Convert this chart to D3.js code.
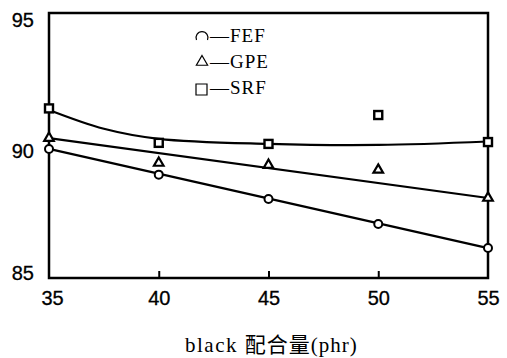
<!DOCTYPE html>
<meta charset="utf-8">
<title>black loading</title>
<style>
body {
  margin: 0px;
  background: #fff;
}
.tick text {
  font: 20px "Liberation Sans Narrow", "Liberation Sans", sans-serif;
  fill: #000;
  stroke: #000;
  stroke-width: 0.3px;
}
.legend text {
  font: 19px "Liberation Serif", serif;
}
</style>
<script src="https://d3js.org/d3.v7.min.js"></script>
<body>
<script>
var width = 507, height = 358;
var margin = {top: 13, right: 19, bottom: 80, left: 49};

// data
var loading = [35, 40, 45, 50, 55];
var fef = [89.87, 88.9, 87.98, 87.04, 86.13];
var gpe = [90.28, 89.34, 89.26, 89.08, 88.02];
var srf = [91.4, 90.1, 90.06, 91.15, 90.13];
// fitted lines drawn through the points
var fefFit = [[35, 89.87], [55, 86.13]];
var gpeFit = [[35, 90.28], [55, 88.02]];
var srfFit = [[35, 91.34], [37.5, 90.63], [40, 90.25], [45, 90.06], [50, 90.02], [55, 90.15]];
var yTicks = [85, 90, 95];
var yLabelShift = {85: -5, 90: 6, 95: 7};
var legendNames = ["FEF", "GPE", "SRF"];

var svg = d3.select("body").append("svg")
    .attr("width", width)
    .attr("height", height);

var x = d3.scaleLinear()
    .domain([35, 55])
    .range([margin.left, width - margin.right]);
var y = d3.scaleLinear()
    .domain([85, 95])
    .range([height - margin.bottom, margin.top]);

// frame
svg.append("rect")
    .attr("x", x(35))
    .attr("y", y(95))
    .attr("width", x(55) - x(35))
    .attr("height", y(85) - y(95))
    .attr("fill", "none")
    .attr("stroke", "#000")
    .attr("stroke-width", 2.5);

var xAxis = svg.append("g")
    .attr("transform", "translate(0," + y(85) + ")")
    .call(d3.axisBottom(x).tickValues(loading).tickSize(-7).tickPadding(13));
xAxis.select(".domain").remove();
xAxis.selectAll(".tick line").attr("stroke-width", 2)
    .filter(function(d) { return d == 35 || d == 55; }).remove();
xAxis.selectAll(".tick text").attr("dx", function(d) { return d == 35 ? 3 : 0; });

var yAxis = svg.append("g")
    .attr("transform", "translate(" + x(35) + ",0)")
    .call(d3.axisLeft(y).tickValues(yTicks).tickSize(0).tickPadding(15));
yAxis.select(".domain").remove();
yAxis.selectAll(".tick text")
    .attr("transform", function(d) { return "translate(0," + yLabelShift[d] + ")"; });

svg.append("text")
    .attr("x", 185)
    .attr("y", 352)
    .style("font", "21px 'Liberation Serif', serif")
    .style("letter-spacing", "1.5px")
    .text("black ")
  .append("tspan")
    .style("font-family", "'Noto Sans CJK SC', sans-serif")
    .style("font-size", "21px")
    .style("letter-spacing", "1px")
    .text("配合量")
  .append("tspan")
    .style("font-family", "'Liberation Serif', serif")
    .text("(phr)");

// fitted lines
var line = d3.line()
    .x(function(d) { return x(d[0]); })
    .y(function(d) { return y(d[1]); });
[fefFit, gpeFit].forEach(function(f) {
  svg.append("path")
      .attr("d", line(f))
      .attr("fill", "none")
      .attr("stroke", "#000")
      .attr("stroke-width", 2.2);
});
svg.append("path")
    .attr("d", line.curve(d3.curveCatmullRom)(srfFit))
    .attr("fill", "none")
    .attr("stroke", "#000")
    .attr("stroke-width", 2.2);

// markers
var pts = function(vals) { return loading.map(function(l, i) { return [l, vals[i]]; }); };
svg.selectAll("circle.fef")
    .data(pts(fef))
  .enter().append("circle")
    .attr("class", "fef")
    .attr("cx", function(d) { return x(d[0]); })
    .attr("cy", function(d) { return y(d[1]); })
    .attr("r", 4)
    .attr("fill", "#fff")
    .attr("stroke", "#000")
    .attr("stroke-width", 2);
svg.selectAll("path.gpe")
    .data(pts(gpe))
  .enter().append("path")
    .attr("class", "gpe")
    .attr("transform", function(d) { return "translate(" + x(d[0]) + "," + y(d[1]) + ")"; })
    .attr("d", d3.symbol(d3.symbolTriangle, 40))
    .attr("fill", "#fff")
    .attr("stroke", "#000")
    .attr("stroke-width", 2.2);
svg.selectAll("rect.srf")
    .data(pts(srf))
  .enter().append("rect")
    .attr("class", "srf")
    .attr("x", function(d) { return x(d[0]) - 4; })
    .attr("y", function(d) { return y(d[1]) - 4; })
    .attr("width", 8)
    .attr("height", 8)
    .attr("fill", "#fff")
    .attr("stroke", "#000")
    .attr("stroke-width", 2.4);

// legend
var legend = svg.selectAll("g.legend")
    .data(legendNames)
  .enter().append("g")
    .attr("class", "legend")
    .attr("transform", function(d, i) { return "translate(202," + (36 + i * 26) + ")"; });
legend.append("path")
    .attr("d", function(d, i) {
      if (i == 0) return "M-5.5,4A6,6 0 1,1 5.5,4";
      if (i == 1) return d3.symbol(d3.symbolTriangle, 55)();
      return "M-6,-4H5V7H-6Z";
    })
    .attr("fill", "none")
    .attr("stroke", "#000")
    .attr("stroke-width", 1.2);
legend.append("text")
    .attr("x", 8)
    .attr("y", 6)
    .style("letter-spacing", "1px")
    .text(function(d) { return "\u2014" + d; });
</script>
